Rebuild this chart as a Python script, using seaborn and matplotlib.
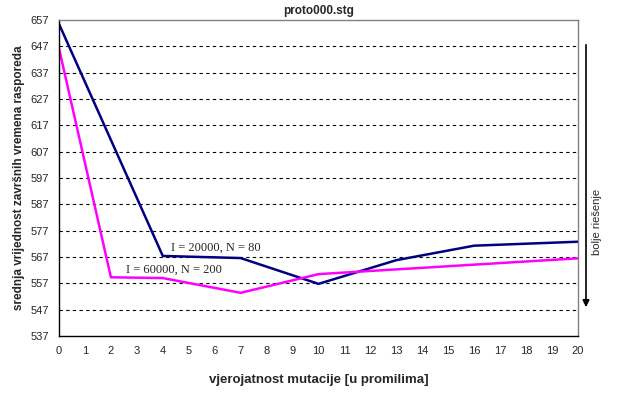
import pandas as pd
import matplotlib
matplotlib.use("Agg")
import matplotlib.pyplot as plt
import seaborn as sns

# -------------------------------
# Data
# -------------------------------
x_a = [0, 4, 7, 10, 13, 16, 20]
y_a = [655.5, 567.4, 566.6, 556.8, 565.8, 571.3, 572.8]

x_b = [0, 2, 4, 7, 10, 20]
y_b = [646.2, 559.3, 559.0, 553.4, 560.5, 566.5]

label_a = "I = 20000, N = 80"
label_b = "I = 60000, N = 200"
y_ticks = list(range(537, 658, 10))
x_ticks = list(range(0, 21))

df = pd.concat([
    pd.DataFrame({"x": x_a, "y": y_a, "serija": label_a}),
    pd.DataFrame({"x": x_b, "y": y_b, "serija": label_b}),
])

# -------------------------------
# Plot
# -------------------------------
sns.set_style("white")
plt.rcParams["font.family"] = ["Liberation Sans", "DejaVu Sans"]

fig = plt.figure(figsize=(6.42, 3.96), dpi=100)
ax = fig.add_axes([0.0919, 0.1515, 0.8084, 0.798])

sns.lineplot(data=df, x="x", y="y", hue="serija",
             palette={label_a: "#000080", label_b: "#ff00ff"},
             linewidth=1.8, legend=False, ax=ax)

ax.set_xlim(0, 20)
ax.set_ylim(537, 657)
ax.set_xticks(x_ticks)
ax.set_yticks(y_ticks)
ax.tick_params(axis="both", labelsize=8, length=4, width=0.8,
               direction="out", color="black", pad=3)

for y in y_ticks[1:-1]:
    ax.axhline(y, color="black", linestyle=(0, (3, 3)), linewidth=0.8, zorder=0)

ax.spines["left"].set_color("black")
ax.spines["bottom"].set_color("black")
ax.spines["top"].set_color("#808080")
ax.spines["right"].set_color("#808080")
for s in ax.spines.values():
    s.set_linewidth(1.0)

ax.set_title("proto000.stg", fontsize=8.5, fontweight="bold", pad=4)
ax.set_xlabel("vjerojatnost mutacije [u promilima]", fontsize=9.5,
              fontweight="bold", labelpad=13)
ax.set_ylabel("srednja vrijednost završnih vremena rasporeda", fontsize=8.5,
              fontweight="bold", labelpad=4)

# series labels
ax.text(4.3, 569.5, label_a, fontsize=9, family="Liberation Serif")
ax.text(2.6, 560.9, label_b, fontsize=9, family="Liberation Serif")

# arrow on the right
fig.add_artist(matplotlib.patches.FancyArrowPatch(
    (586 / 642, 1 - 42 / 396), (586 / 642, 1 - 310 / 396),
    transform=fig.transFigure, arrowstyle="-|>", mutation_scale=10,
    color="black", linewidth=1.2))
fig.text(597 / 642, 1 - 222 / 396, "bolje riešenje", rotation=90,
         fontsize=8, ha="center", va="center")

fig.savefig("out.png", dpi=100)
